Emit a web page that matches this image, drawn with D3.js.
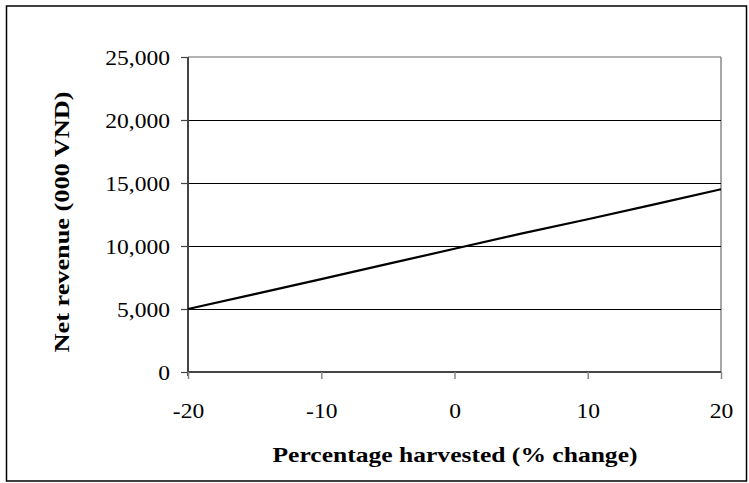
<!DOCTYPE html>
<html><head><meta charset="utf-8">
<script src="https://cdn.jsdelivr.net/npm/d3@7"></script>
<style>body{margin:0;background:#fff}svg{display:block}text{font-family:"Liberation Serif","Times New Roman",serif;fill:#000}</style>
</head><body>
<svg id="c" width="749" height="483"></svg>
<script>
const pctChange = [-20, -15, -10, -5, 0, 5, 10, 15, 20];
const netRevenue = [5000, 6180, 7370, 8580, 9780, 10980, 12120, 13300, 14500];
const xTicks = [-20, -10, 0, 10, 20];
const yTicks = [0, 5000, 10000, 15000, 20000, 25000];
const xTitle = "Percentage harvested (% change)";
const yTitle = "Net revenue (000 VND)";

const svg = d3.select("#c");
const L = 188, R = 721, T = 57, B = 372;
const x = d3.scaleLinear().domain([-20, 20]).range([L, R]);
const y = d3.scaleLinear().domain([0, 25000]).range([B, T]);

svg.append("rect").attr("x", 6.5).attr("y", 6).attr("width", 740).attr("height", 475)
  .attr("fill", "none").attr("stroke", "#000").attr("stroke-width", 1.5);

// plot frame (top/right gray)
svg.append("line").attr("x1", L).attr("x2", R).attr("y1", T).attr("y2", T).attr("stroke", "#999").attr("stroke-width", 1.5);
svg.append("line").attr("x1", R).attr("x2", R).attr("y1", T).attr("y2", B).attr("stroke", "#888").attr("stroke-width", 1.5);

// gridlines
svg.append("g").selectAll("line").data(yTicks.filter(d => d > 0 && d < 25000)).join("line")
  .attr("x1", L).attr("x2", R).attr("y1", d => Math.round(y(d)) + 0.5).attr("y2", d => Math.round(y(d)) + 0.5)
  .attr("stroke", "#000").attr("stroke-width", 1);

// y axis
const yAxis = svg.append("g").attr("transform", `translate(${L},0)`)
  .call(d3.axisLeft(y).tickValues(yTicks).tickSize(7).tickPadding(11).tickFormat(d3.format(",")));
yAxis.attr("font-family", null);
yAxis.select(".domain").attr("stroke", "#444").attr("stroke-width", 2).attr("d", `M0,${T}V${B + 4}`);
yAxis.selectAll(".tick line").attr("stroke", "#444").attr("stroke-width", 1.2);
yAxis.selectAll("text").attr("font-size", 21).attr("fill", "#000").attr("dy", "0.34em");

// x axis
const xAxis = svg.append("g").attr("transform", `translate(0,${B})`)
  .call(d3.axisBottom(x).tickValues(xTicks).tickSize(7).tickPadding(32).tickFormat(d => String(d)));
xAxis.attr("font-family", null);
xAxis.select(".domain").attr("stroke", "#444").attr("stroke-width", 2).attr("d", `M${L},0H${R}`);
xAxis.selectAll(".tick line").attr("stroke", "#888").attr("stroke-width", 1.5);
xAxis.selectAll("text").attr("font-size", 21).attr("fill", "#000").attr("dy", "0.34em");

// stretch labels horizontally
svg.selectAll(".tick text").each(function () {
  const w = this.getComputedTextLength();
  d3.select(this).attr("textLength", w * 1.12).attr("lengthAdjust", "spacingAndGlyphs");
});

// line
svg.append("path").datum(pctChange.map((p, i) => [p, netRevenue[i]]))
  .attr("fill", "none").attr("stroke", "#000").attr("stroke-width", 2.2)
  .attr("d", d3.line().x(d => x(d[0])).y(d => y(d[1])));

// titles
svg.append("text").attr("x", 455).attr("y", 462).attr("text-anchor", "middle")
  .attr("font-size", 21).attr("font-weight", "bold").text(xTitle)
  .attr("textLength", 365).attr("lengthAdjust", "spacingAndGlyphs");
svg.append("text").attr("transform", "translate(69,222) rotate(-90)").attr("text-anchor", "middle")
  .attr("font-size", 21).attr("font-weight", "bold").text(yTitle)
  .attr("textLength", 261).attr("lengthAdjust", "spacingAndGlyphs");
</script>
</body></html>
